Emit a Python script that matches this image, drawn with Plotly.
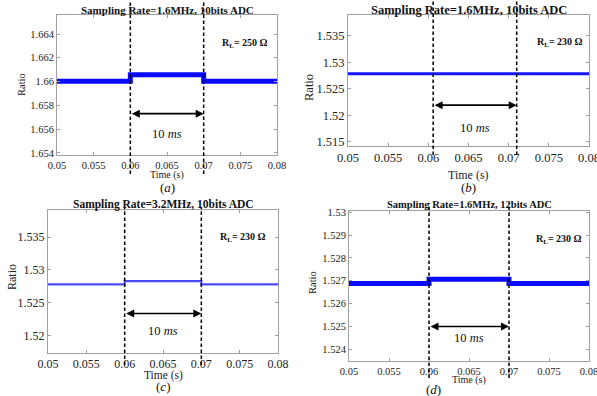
import plotly.graph_objects as go

W, H = 597, 396
FONT = "Liberation Serif"

# ---- data ----
time_pts = [0.05, 0.06, 0.07, 0.08]
ratio_a = [1.66003, 1.66057, 1.66003, 1.66003]
ratio_b = [1.5278, 1.5278, 1.5278, 1.5278]
ratio_c = [1.5278, 1.5283, 1.5278, 1.5278]
ratio_d = [1.52688, 1.52706, 1.52688, 1.52688]

events_a = [0.06, 0.07]
events_b = [0.0606, 0.0710]
events_c = [0.06, 0.07]
events_d = [0.06, 0.07]

titles = ["Sampling Rate=1.6MHz, 10bits ADC", "Sampling Rate=1.6MHz, 10bits ADC",
          "Sampling Rate=3.2MHz, 10bits ADC", "Sampling Rate=1.6MHz, 12bits ADC"]
rl_labels = ["R<sub>L</sub>= 250 Ω", "R<sub>L</sub>= 230 Ω", "R<sub>L</sub>= 230 Ω", "R<sub>L</sub>= 230 Ω"]
panel_labels = ["(<i>a</i>)", "(<i>b</i>)", "(<i>c</i>)", "(<i>d</i>)"]

x_ticks = [0.05, 0.055, 0.06, 0.065, 0.07, 0.075, 0.08]
x_ticktext = ["0.05", "0.055", "0.06", "0.065", "0.07", "0.075", "0.08"]
y_ticks_a = [1.654, 1.656, 1.658, 1.66, 1.662, 1.664]
y_ticktext_a = ["1.654", "1.656", "1.658", "1.66", "1.662", "1.664"]
y_ticks_b = [1.515, 1.52, 1.525, 1.53, 1.535]
y_ticktext_b = ["1.515", "1.52", "1.525", "1.53", "1.535"]
y_ticks_c = [1.52, 1.525, 1.53, 1.535]
y_ticktext_c = ["1.52", "1.525", "1.53", "1.535"]
y_ticks_d = [1.524, 1.525, 1.526, 1.527, 1.528, 1.529, 1.53]
y_ticktext_d = ["1.524", "1.525", "1.526", "1.527", "1.528", "1.529", "1.53"]

arrow_y = [1.6573, 1.5219, 1.5234, 1.5250]
ms_y = [1.6556, 1.5176, 1.5207, 1.52448]
rl_pos = [(0.0756, 1.66324), (0.0764, 1.5337), (0.0754, 1.5349), (0.0762, 1.52882)]

# ---- layout geometry (pixels) ----
def px(x):
    return x / W

def py(y):
    return 1 - y / H

panels = [
    dict(l=57, r=277, t=15, b=155, yr=[1.65382, 1.66560], ys=(y_ticks_a, y_ticktext_a), data=ratio_a,
         ev=events_a, lw=5, color="#0a0aff", fs=10.5, tfs=11, ev_t=0, ev_b=174, title_y=10,
         time_y=175, lab_y=187, ratio_x=21, ratio_y=85),
    dict(l=348, r=589, t=15, b=146, yr=[1.5142, 1.5389], ys=(y_ticks_b, y_ticktext_b), data=ratio_b,
         ev=events_b, lw=3, color="#1515ff", fs=12.5, tfs=12.5, ev_t=0, ev_b=155, title_y=10,
         time_y=175, lab_y=187, ratio_x=309, ratio_y=88),
    dict(l=48, r=278, t=210, b=353, yr=[1.5174, 1.5391], ys=(y_ticks_c, y_ticktext_c), data=ratio_c,
         ev=events_c, lw=2.2, color="#4a4aff", fs=12, tfs=11.5, ev_t=207, ev_b=365, title_y=205,
         time_y=375, lab_y=386, ratio_x=12, ratio_y=277),
    dict(l=349, r=589, t=211, b=361, yr=[1.52349, 1.53005], ys=(y_ticks_d, y_ticktext_d), data=ratio_d,
         ev=events_d, lw=5, color="#0a0aff", fs=10.5, tfs=10.5, ev_t=203, ev_b=378, title_y=205,
         time_y=380, lab_y=389, ratio_x=312, ratio_y=283),
]

fig = go.Figure()
shapes = []
annotations = []

for i, p in enumerate(panels):
    n = "" if i == 0 else str(i + 1)
    xa, ya = "x" + n, "y" + n
    fig.add_trace(go.Scatter(x=time_pts, y=p["data"], mode="lines", line_shape="hv",
                             line=dict(color=p["color"], width=p["lw"]),
                             xaxis=xa, yaxis=ya, showlegend=False, hoverinfo="skip"))
    axis_common = dict(showgrid=False, zeroline=False, showline=True, mirror="ticks",
                       linecolor="#a0a0a0", linewidth=1, ticks="inside", ticklen=3,
                       tickcolor="#a0a0a0", automargin=False, ticklabeloverflow="allow",
                       tickfont=dict(family=FONT, size=p["fs"], color="#222"))
    fig.update_layout(**{
        "xaxis" + n: dict(domain=[px(p["l"]), px(p["r"])], range=[0.05, 0.08], anchor=ya,
                          tickvals=x_ticks, ticktext=x_ticktext, **axis_common),
        "yaxis" + n: dict(domain=[py(p["b"]), py(p["t"])], range=p["yr"], anchor=xa,
                          tickvals=p["ys"][0], ticktext=p["ys"][1], **axis_common),
    })
    for ev in p["ev"]:
        shapes.append(dict(type="line", xref=xa, yref="paper", x0=ev, x1=ev,
                           y0=py(p["ev_b"]), y1=py(p["ev_t"]),
                           line=dict(color="black", width=1.5, dash="3.5px,2.5px")))
    cx = (p["l"] + p["r"]) / 2
    # title
    annotations.append(dict(text="<b>" + titles[i] + "</b>", xref="paper", yref="paper",
                            x=px(cx), y=py(p["title_y"]), xanchor="center", yanchor="middle",
                            showarrow=False, font=dict(family=FONT, size=p["tfs"], color="#111")))
    # arrow
    annotations.append(dict(x=p["ev"][1], y=arrow_y[i], ax=p["ev"][0], ay=arrow_y[i],
                            xref=xa, yref=ya, axref=xa, ayref=ya, text="", showarrow=True,
                            arrowhead=2, startarrowhead=2, arrowside="end+start",
                            arrowsize=1, arrowwidth=1.6, arrowcolor="black"))
    # 10 ms
    annotations.append(dict(x=(p["ev"][0] + p["ev"][1]) / 2, y=ms_y[i], xref=xa, yref=ya,
                            text="10 <i>ms</i>", showarrow=False,
                            font=dict(family=FONT, size=12.5, color="#111")))
    # R_L
    annotations.append(dict(x=rl_pos[i][0], y=rl_pos[i][1], xref=xa, yref=ya,
                            text="<b>" + rl_labels[i] + "</b>", showarrow=False,
                            font=dict(family=FONT, size=10, color="#111")))
    # axis titles
    annotations.append(dict(text="Time (s)", xref="paper", yref="paper", x=px(cx),
                            y=py(p["time_y"]), xanchor="center", yanchor="middle", showarrow=False,
                            font=dict(family=FONT, size=p["fs"] - 0.5, color="#222")))
    annotations.append(dict(text="Ratio", xref="paper", yref="paper", x=px(p["ratio_x"]),
                            y=py(p["ratio_y"]), xanchor="center", yanchor="middle", textangle=-90,
                            showarrow=False, font=dict(family=FONT, size=p["fs"], color="#222")))
    lab_x = cx if i != 3 else 433
    annotations.append(dict(text=panel_labels[i], xref="paper", yref="paper", x=px(lab_x),
                            y=py(p["lab_y"]), xanchor="center", yanchor="middle", showarrow=False,
                            font=dict(family=FONT, size=13, color="#111")))

fig.update_layout(width=W, height=H, margin=dict(l=0, r=0, t=0, b=0, autoexpand=False),
                  paper_bgcolor="white", plot_bgcolor="white",
                  shapes=shapes, annotations=annotations, showlegend=False)

fig.write_html("out.html", config={"displayModeBar": False},
               post_script="document.body.style.margin='0';")
